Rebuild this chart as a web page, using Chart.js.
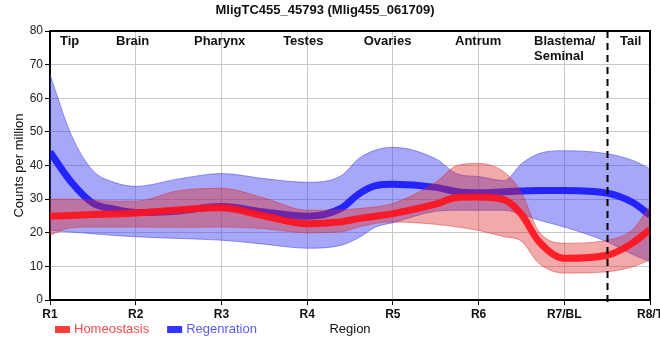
<!DOCTYPE html>
<html>
<head>
<meta charset="utf-8">
<script src="https://cdn.jsdelivr.net/npm/chart.js@4.4.1/dist/chart.umd.min.js"></script>
<style>
  html, body { margin: 0; padding: 0; background: #fff; }
  #wrap { width: 660px; height: 360px; }
</style>
</head>
<body>
<div id="wrap"><canvas id="c" width="660" height="360"></canvas></div>
<script>
// Sample positions along the body (region units: 1 = R1 ... 8 = R8/T)
const positions = [1, 1.25, 1.5, 1.75, 2, 2.5, 3, 3.5, 4, 4.4, 4.6, 4.8, 5, 5.5, 5.75, 6, 6.3, 6.5, 6.7, 7, 7.5, 7.8, 8];
const tickLabels = ['R1', 'R2', 'R3', 'R4', 'R5', 'R6', 'R7/BL', 'R8/T'];

// Homeostasis (red)
const homeoMean  = [24.9, 25.1, 25.4, 25.6, 25.9, 26.8, 27.4, 25.0, 22.7, 23.3, 24.2, 24.9, 25.7, 28.5, 30.5, 30.6, 29.8, 25.5, 17.5, 12.4, 13.3, 17.0, 21.0];
const homeoUpper = [30.0, 30.0, 29.7, 29.4, 29.4, 32.5, 33.2, 30.3, 26.7, 26.8, 27.2, 27.7, 28.7, 35.0, 40.0, 40.6, 38.0, 32.0, 20.5, 16.9, 17.8, 21.0, 28.0];
const homeoLower = [19.3, 21.5, 21.7, 21.7, 21.7, 21.6, 21.7, 21.2, 20.0, 20.3, 21.7, 22.8, 23.2, 22.5, 21.7, 20.7, 18.8, 17.5, 11.0, 8.0, 8.4, 9.9, 11.9];

// Regeneration (blue)
const regenMean  = [44.0, 35.0, 28.8, 27.0, 26.0, 26.5, 27.8, 26.2, 24.9, 27.3, 31.5, 34.0, 34.4, 33.5, 32.2, 31.9, 32.2, 32.4, 32.6, 32.6, 31.8, 29.0, 25.2];
const regenUpper = [67.0, 49.0, 38.5, 35.0, 33.8, 36.0, 37.6, 36.1, 35.0, 37.0, 42.0, 44.6, 45.4, 42.0, 37.5, 36.7, 35.5, 40.5, 43.5, 44.4, 43.5, 41.5, 39.0];
const regenLower = [20.7, 20.2, 19.7, 19.2, 18.8, 18.3, 17.8, 16.6, 15.4, 16.3, 18.5, 21.7, 23.0, 26.4, 26.7, 26.7, 26.7, 25.5, 23.8, 21.7, 17.3, 13.5, 11.4];

// Region annotations (label lines, left edge position in region units)
const regionNames = [['Tip'], ['Brain'], ['Pharynx'], ['Testes'], ['Ovaries'], ['Antrum'], ['Blastema/', 'Seminal'], ['Tail']];
const regionStarts = [1.117, 1.77, 2.68, 3.72, 4.66, 5.725, 6.647, 7.65];
const tailBoundary = 7.5;

const pts = arr => arr.map((v, i) => ({ x: positions[i], y: v }));

const RED_LINE = 'rgba(255,20,30,0.92)';
const RED_BAND = 'rgba(220,40,40,0.40)';
const RED_EDGE = 'rgba(220,40,40,0.45)';
const BLUE_LINE = 'rgba(25,25,255,0.92)';
const BLUE_BAND = 'rgba(60,60,240,0.45)';
const BLUE_EDGE = 'rgba(60,60,240,0.5)';

const legendItems = [
  { text: 'Homeostasis', box: '#ff3a3a', color: '#ff4a4a' },
  { text: 'Regenration', box: '#3434ff', color: '#5a5aff' }
];

const bandCommon = { pointRadius: 0, borderWidth: 1, cubicInterpolationMode: 'monotone' };

const decor = {
  id: 'decor',
  afterDatasetsDraw(chart) {
    const { ctx, chartArea: a, scales: { x } } = chart;
    ctx.save();
    // dashed tail boundary
    const xb = Math.round(x.getPixelForValue(tailBoundary)) + 0.5;
    ctx.strokeStyle = '#000';
    ctx.lineWidth = 2;
    ctx.setLineDash([7, 5]);
    ctx.beginPath();
    ctx.moveTo(xb, a.top);
    ctx.lineTo(xb, a.bottom + 6);
    ctx.stroke();
    ctx.setLineDash([]);
    // frame top & right
    ctx.lineWidth = 2;
    ctx.beginPath();
    ctx.moveTo(a.left, a.top);
    ctx.lineTo(a.right, a.top);
    ctx.lineTo(a.right, a.bottom);
    ctx.stroke();
    // region labels
    ctx.fillStyle = '#111';
    ctx.font = 'bold 13px "Liberation Sans", Arial, sans-serif';
    ctx.textAlign = 'left';
    ctx.textBaseline = 'middle';
    regionNames.forEach((lines, i) => {
      const px = x.getPixelForValue(regionStarts[i]);
      lines.forEach((t, j) => ctx.fillText(t, px, a.top + 10 + j * 15));
    });
    ctx.restore();
  },
  afterDraw(chart) {
    const { ctx } = chart;
    ctx.save();
    ctx.font = '13px "Liberation Sans", Arial, sans-serif';
    ctx.textBaseline = 'middle';
    ctx.textAlign = 'left';
    let px = 55;
    const py = 329;
    legendItems.forEach(it => {
      ctx.fillStyle = it.box;
      ctx.fillRect(px, py - 3, 15, 7);
      ctx.fillStyle = it.color;
      ctx.fillText(it.text, px + 19, py);
      px += 19 + ctx.measureText(it.text).width + 18;
    });
    ctx.restore();
  }
};

new Chart(document.getElementById('c'), {
  type: 'line',
  data: {
    datasets: [
      { label: 'Homeostasis', data: pts(homeoMean), borderColor: RED_LINE, backgroundColor: RED_LINE, borderWidth: 7, pointRadius: 0, cubicInterpolationMode: 'monotone', fill: false, order: 1 },
      { label: 'Homeostasis upper', data: pts(homeoUpper), borderColor: RED_EDGE, backgroundColor: RED_BAND, fill: '+1', order: 2, ...bandCommon },
      { label: 'Homeostasis lower', data: pts(homeoLower), borderColor: RED_EDGE, backgroundColor: RED_BAND, fill: false, order: 2, ...bandCommon },
      { label: 'Regenration', data: pts(regenMean), borderColor: BLUE_LINE, backgroundColor: BLUE_LINE, borderWidth: 7, pointRadius: 0, cubicInterpolationMode: 'monotone', fill: false, order: 3 },
      { label: 'Regenration upper', data: pts(regenUpper), borderColor: BLUE_EDGE, backgroundColor: BLUE_BAND, fill: '+1', order: 4, ...bandCommon },
      { label: 'Regenration lower', data: pts(regenLower), borderColor: BLUE_EDGE, backgroundColor: BLUE_BAND, fill: false, order: 4, ...bandCommon }
    ]
  },
  options: {
    responsive: false,
    animation: false,
    layout: { padding: { left: 0, right: 10, top: 0, bottom: 23 } },
    plugins: {
      legend: { display: false },
      tooltip: { enabled: false },
      title: {
        display: true,
        text: 'MligTC455_45793 (Mlig455_061709)',
        color: '#111',
        font: { family: '"Liberation Sans", Arial, sans-serif', size: 13, weight: 'bold' },
        padding: { top: 3, bottom: 12.4 }
      }
    },
    scales: {
      x: {
        type: 'linear',
        min: 1, max: 8,
        ticks: {
          stepSize: 1,
          autoSkip: false,
          maxRotation: 0,
          padding: 2,
          color: '#111',
          font: { family: '"Liberation Sans", Arial, sans-serif', size: 12, weight: 'bold' },
          callback: v => tickLabels[v - 1] ?? ''
        },
        grid: { color: '#c8c8c8', lineWidth: 1, tickColor: '#000', tickLength: 5 },
        border: { color: '#000', width: 2 },
        title: {
          display: true, text: 'Region', color: '#111',
          font: { family: '"Liberation Sans", Arial, sans-serif', size: 13 },
          padding: { top: 0, bottom: 0 }
        },
        afterFit(s) { s.paddingLeft = 0; s.paddingRight = 0; s.height = 37; }
      },
      y: {
        min: 0, max: 80,
        ticks: {
          stepSize: 10, padding: 2, color: '#222',
          font: { family: '"Liberation Sans", Arial, sans-serif', size: 12 }
        },
        grid: { color: '#c8c8c8', lineWidth: 1, tickColor: '#000', tickLength: 5 },
        border: { color: '#000', width: 2 },
        title: {
          display: true, text: 'Counts per million', color: '#111',
          font: { family: '"Liberation Sans", Arial, sans-serif', size: 13 },
          padding: { top: 12, bottom: 0 }
        },
        afterFit(s) { s.width = 50; s.paddingTop = 0; s.paddingBottom = 0; }
      }
    }
  },
  plugins: [decor]
});
</script>
</body>
</html>
